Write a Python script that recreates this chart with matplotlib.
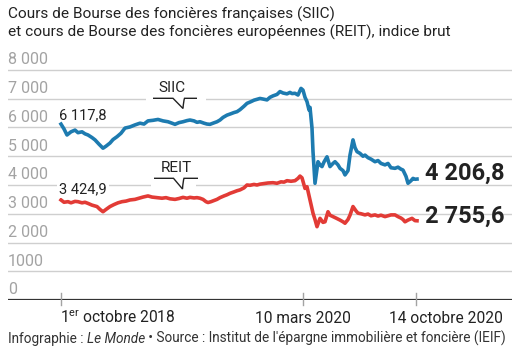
import matplotlib
matplotlib.use("Agg")
import matplotlib.pyplot as plt
import matplotlib.transforms as mtransforms
from matplotlib.path import Path
from matplotlib.patches import PathPatch, Rectangle

plt.rcParams['font.family'] = ['Roboto', 'DejaVu Sans']
plt.rcParams['mathtext.fontset'] = 'custom'
plt.rcParams['mathtext.rm'] = 'Roboto'

# ---------------- data ----------------
title_lines = ["Cours de Bourse des foncières françaises (SIIC)",
               "et cours de Bourse des foncières européennes (REIT), indice brut"]
footer_parts = ["Infographie : ", "Le Monde",
                " • Source : Institut de l'épargne immobilière et foncière (IEIF)"]

y_ticks = [0, 1000, 2000, 3000, 4000, 5000, 6000, 7000, 8000]
y_tick_labels = ["0", "1000", "2 000", "3 000", "4 000", "5 000", "6 000", "7 000", "8 000"]

# x position (time index along the period) of the labelled dates
x_tick_pos = [0, 242, 355]
x_tick_labels = ["1$^{\\mathrm{er}}$ octobre 2018", "10 mars 2020", "14 octobre 2020"]

siic_t = [0, 3, 6, 10, 14, 17, 21, 24, 27, 31, 34, 38, 42, 45, 49, 52, 56, 60, 64, 69,
          74, 79, 83, 87, 92, 97, 102, 107, 111, 114, 118, 122, 126, 129, 133, 136, 139,
          143, 146, 149, 152, 156, 159, 162, 166, 170, 173, 176, 179, 183, 186, 190, 193,
          196, 199, 202, 206, 209, 212, 216, 219, 222, 226, 229, 231, 234, 237, 240, 242,
          244, 246, 248, 249, 251, 252, 254, 257, 259, 261, 263, 266, 269, 272, 274, 277,
          279, 282, 284, 287, 289, 292, 294, 296, 299, 302, 304, 307, 310, 314, 317, 320,
          324, 327, 330, 334, 337, 340, 342, 345, 347, 350, 352, 354, 356]
siic_v = [6118, 5950, 5740, 5850, 5910, 5820, 5850, 5780, 5740, 5650, 5570, 5420, 5280,
          5350, 5460, 5580, 5680, 5800, 5980, 6020, 6090, 6150, 6120, 6230, 6250, 6280,
          6230, 6200, 6150, 6110, 6170, 6200, 6240, 6260, 6230, 6180, 6200, 6150, 6120,
          6110, 6150, 6200, 6260, 6350, 6430, 6480, 6520, 6550, 6620, 6740, 6840, 6900,
          6950, 6980, 7010, 6990, 6960, 7050, 7100, 7150, 7250, 7200, 7170, 7220, 7180,
          7190, 7130, 7360, 7300, 7050, 6900, 6610, 6700, 5980, 5160, 4060, 4810, 4700,
          4640, 4800, 4980, 4640, 4750, 4810, 4700, 4580, 4500, 4350, 4500, 5040, 5570,
          5300, 5160, 5100, 5000, 5040, 4950, 4900, 4810, 4850, 4750, 4700, 4750, 4600,
          4580, 4620, 4550, 4520, 4300, 4060, 4150, 4230, 4200, 4206.8]

reit_t = [0, 3, 7, 10, 14, 17, 21, 24, 27, 31, 34, 36, 39, 42, 45, 49, 53, 57, 61, 65,
          69, 74, 78, 82, 87, 91, 96, 101, 105, 109, 114, 118, 122, 126, 129, 133, 136,
          139, 142, 145, 147, 150, 153, 156, 159, 163, 166, 169, 173, 176, 179, 183, 186,
          189, 193, 196, 199, 203, 207, 212, 216, 220, 223, 226, 230, 234, 237, 239, 241,
          244, 246, 249, 252, 254, 256, 259, 262, 264, 267, 269, 272, 275, 279, 282, 284,
          287, 289, 292, 295, 297, 300, 304, 307, 310, 314, 317, 320, 324, 327, 330, 334,
          337, 340, 342, 344, 347, 351, 354, 356]
reit_v = [3480, 3400, 3420, 3380, 3430, 3420, 3380, 3400, 3360, 3300, 3270, 3250, 3150,
          3070, 3150, 3250, 3320, 3380, 3420, 3440, 3480, 3500, 3540, 3580, 3620, 3580,
          3560, 3540, 3560, 3520, 3500, 3530, 3570, 3540, 3570, 3550, 3560, 3540, 3500,
          3420, 3390, 3420, 3460, 3500, 3560, 3620, 3660, 3710, 3760, 3800, 3830, 3900,
          4000, 3990, 4020, 4000, 4030, 4050, 4070, 4080, 4060, 4110, 4100, 4150, 4130,
          4150, 4230, 4310, 4250, 3880, 3940, 3480, 3020, 2800, 2550, 2840, 2700, 2720,
          3070, 2950, 2900, 2850, 2780, 2720, 2670, 2800, 2950, 3250, 3100, 3020, 3000,
          2960, 2990, 2930, 2960, 2920, 2950, 2900, 2930, 2960, 2960, 2900, 2850, 2800,
          2720, 2780, 2840, 2760, 2755.6]

siic_name, reit_name = "SIIC", "REIT"
siic_start_label, siic_end_label = "6 117,8", "4 206,8"
reit_start_label, reit_end_label = "3 424,9", "2 755,6"

# ---------------- style ----------------
BLUE = "#1d7bb0"
RED = "#e23b36"
GRID = "#cfcfcf"
TICKGREY = "#a3a3a3"
DARK = "#222222"

W, H = 512, 351
fig = plt.figure(figsize=(W / 100, H / 100), dpi=100)

ax_left, ax_right, ax_bottom, ax_top = 8, 512, 300, 62
ax = fig.add_axes([ax_left / W, (H - ax_bottom) / H, (ax_right - ax_left) / W,
                   (ax_bottom - ax_top) / H])
px_per_unit_y = 230 / 8000.0
ax.set_ylim(0, (ax_bottom - ax_top) / px_per_unit_y)
x0_px = 61  # pixel of t=0
ax.set_xlim(ax_left - x0_px, ax_right - x0_px)
ax.axis("off")

# gridlines
for v in y_ticks[1:]:
    ax.axhline(v, color=GRID, lw=1.0, zorder=1)
ax.axhline(0, color="#333333", lw=1.6, zorder=3)

# y labels
ytrans = ax.get_yaxis_transform() + mtransforms.ScaledTranslation(0, 10 / 100, fig.dpi_scale_trans)
for v, lab in zip(y_ticks, y_tick_labels):
    ax.text(0, v, lab, transform=ytrans, ha="left", va="center",
            fontsize=11.5, color=TICKGREY, zorder=2)

# x ticks
xtr = ax.get_xaxis_transform()
for p in x_tick_pos:
    ax.plot([p, p], [-5 / 238, 7 / 238], transform=xtr, color=TICKGREY, lw=1.0,
            clip_on=False, zorder=3)
tick_y = -23 / 238
ax.text(x_tick_pos[0] - 1, tick_y, x_tick_labels[0], transform=xtr, ha="left",
        va="baseline", fontsize=11.2, color=DARK)
ax.text(x_tick_pos[1], tick_y, x_tick_labels[1], transform=xtr, ha="center",
        va="baseline", fontsize=11.2, color=DARK)
ax.text((503 - x0_px), tick_y, x_tick_labels[2], transform=xtr, ha="right",
        va="baseline", fontsize=11.2, color=DARK)

# series
ax.plot(reit_t, reit_v, color=RED, lw=2.6, solid_joinstyle="round", zorder=4, clip_on=False)
ax.plot(siic_t, siic_v, color=BLUE, lw=2.6, solid_joinstyle="round", zorder=5, clip_on=False)

def off(dx, dy):
    return ax.transData + mtransforms.ScaledTranslation(dx / 100, dy / 100, fig.dpi_scale_trans)

# start labels
ax.text(siic_t[0], siic_v[0], siic_start_label, transform=off(-2, 4.5), ha="left",
        va="baseline", fontsize=10.5, color=DARK, zorder=6)
ax.text(reit_t[0], reit_v[0], reit_start_label, transform=off(-2, 7), ha="left",
        va="baseline", fontsize=10.5, color=DARK, zorder=6,
        bbox=dict(boxstyle="square,pad=0.15", fc="white", ec="none"))

# end labels
ax.text(siic_t[-1], siic_v[-1], siic_end_label, transform=off(8, 6), ha="left",
        va="center", fontsize=17, fontweight="bold", color=DARK, zorder=6)
ax.text(reit_t[-1], reit_v[-1], reit_end_label, transform=off(8, 4), ha="left",
        va="center", fontsize=17, fontweight="bold", color=DARK, zorder=6)

def fig_px(x, y):
    return (x / W, (H - y) / H)

def callout(name, cx, base_y, x_left, x_right, tip_x, tip_y, notch_l, mask):
    mx0, my0, mx1, my1 = mask
    fig.patches.append(Rectangle(fig_px(mx0, my1), (mx1 - mx0) / W, (my1 - my0) / H,
                                 transform=fig.transFigure, fc="white", ec="none",
                                 zorder=1.5))
    fig.text(*fig_px(cx, base_y - 6), name, ha="center", va="baseline", fontsize=11,
             color=DARK, zorder=7)
    ly = base_y
    verts = [fig_px(x_left, ly), fig_px(notch_l, ly), fig_px(tip_x, tip_y),
             fig_px(tip_x + 0.5, ly + 3), fig_px(tip_x + 1.5, ly), fig_px(x_right, ly)]
    codes = [Path.MOVETO, Path.LINETO, Path.LINETO, Path.CURVE3, Path.CURVE3, Path.LINETO]
    fig.patches.append(PathPatch(Path(verts, codes), transform=fig.transFigure,
                                 fill=False, ec=DARK, lw=1.0, zorder=7))

callout(siic_name, 172, 98.3, 153, 197, 183, 108.5, 173, (146, 78, 206, 101))
callout(reit_name, 176, 178.3, 154, 198, 182.5, 189, 173.5, (151, 158, 196, 187))

# title
fig.text(8 / W, (H - 18.3) / H, title_lines[0], ha="left", va="baseline", fontsize=11.1, color=DARK)
fig.text(8 / W, (H - 36.7) / H, title_lines[1], ha="left", va="baseline", fontsize=11.1, color=DARK)

# footer with italic segment, sized so that it spans from x=8 to x=503
renderer = fig.canvas.get_renderer()
styles = ["normal", "italic", "normal"]
target = 495.0
size = 9.5
footer_texts = []
for _ in range(4):
    for t in footer_texts:
        t.remove()
    footer_texts = []
    xcur = 8
    for part, st in zip(footer_parts, styles):
        t = fig.text(xcur / W, (H - 343) / H, part, ha="left", va="baseline", fontsize=size,
                     style=st, color="#333333")
        bb = t.get_window_extent(renderer)
        xcur = bb.x1
        footer_texts.append(t)
    total = bb.x1 - 8
    size = size * target / total

fig.savefig("out.png", dpi=100)
